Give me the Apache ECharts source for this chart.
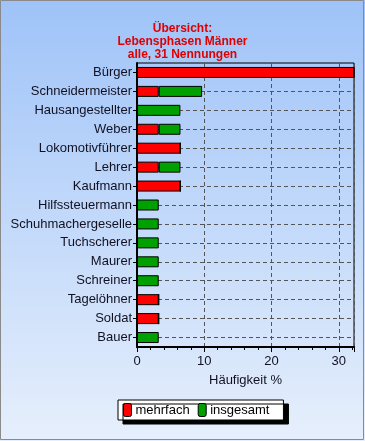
<!DOCTYPE html>
<html>
<head>
<meta charset="utf-8">
<script src="https://cdn.jsdelivr.net/npm/echarts@6/dist/echarts.min.js"></script>
<style>
html,body{margin:0;padding:0;}
#c{width:365px;height:441px;}
</style>
</head>
<body>
<div id="c"></div>
<script>
var categories = ["Bürger","Schneidermeister","Hausangestellter","Weber","Lokomotivführer","Lehrer","Kaufmann","Hilfssteuermann","Schuhmachergeselle","Tuchscherer","Maurer","Schreiner","Tagelöhner","Soldat","Bauer"];
var mehrfach  = [32.26, 3.23, 0, 3.23, 6.45, 3.23, 6.45, 0, 0, 0, 0, 0, 3.23, 3.23, 0];
var insgesamt = [0, 6.45, 6.45, 3.23, 0, 3.23, 0, 3.23, 3.23, 3.23, 3.23, 3.23, 0, 0, 3.23];
var xTicks = [0, 10, 20, 30];
var xMax = 32.26;
var titleText = "Übersicht:\nLebensphasen Männer\nalle, 31 Nennungen";
var seriesNames = ["mehrfach", "insgesamt"];

var chart = echarts.init(document.getElementById('c'), null, {renderer:'canvas'});
var font = "'Liberation Sans', Arial, sans-serif";
chart.setOption({
  animation:false,
  backgroundColor:{type:'linear',x:0,y:0,x2:0,y2:1,colorStops:[{offset:0,color:'#9fc3f8'},{offset:1,color:'#e6effc'}]},
  graphic:[{type:'rect',shape:{x:0.5,y:0.5,width:363,height:439},style:{fill:'none',stroke:'#8a8a8a',lineWidth:1},silent:true}],
  title:{text:titleText,left:'center',top:17,textStyle:{color:'#e00000',fontWeight:'bold',fontSize:12,lineHeight:13,fontFamily:font}},
  grid:{left:137,right:11,top:63,bottom:94,show:true,borderColor:'#000',borderWidth:1},
  legend:{data:seriesNames,left:118,top:400,padding:[3,14,3,5],itemGap:8,itemWidth:8,itemHeight:13,
    backgroundColor:'#fff',borderColor:'#000',borderWidth:1,shadowColor:'#000',shadowOffsetX:5,shadowOffsetY:4,shadowBlur:0,
    itemStyle:{borderColor:'#000',borderWidth:1},
    textStyle:{fontSize:13,fontFamily:font,color:'#000',padding:[0,0,0,-1]}},
  xAxis:{type:'value',min:0,max:xMax,interval:10,name:'Häufigkeit %',nameLocation:'middle',nameGap:27,
    nameTextStyle:{fontSize:13,fontFamily:font,color:'#112'},
    axisLine:{show:true,lineStyle:{color:'#000',width:2}},
    axisTick:{show:true,length:5,lineStyle:{color:'#000'}},
    minorTick:{show:true,splitNumber:5,length:3,lineStyle:{color:'#000'}},
    axisLabel:{fontSize:13,fontFamily:font,color:'#112',margin:8,showMaxLabel:false,
      formatter:function(v){return xTicks.indexOf(v)>=0?String(v):'';}},
    splitLine:{show:true,lineStyle:{color:'#555',type:[4,3],width:1}}},
  yAxis:{type:'category',data:categories,inverse:true,
    axisLine:{show:true,lineStyle:{color:'#000',width:2}},
    axisTick:{show:true,alignWithLabel:true,length:4,lineStyle:{color:'#000'}},
    axisLabel:{fontSize:13,fontFamily:font,color:'#112',margin:5},
    splitLine:{show:false}},
  series:[
    {name:'_grid',type:'line',data:[],z:1,silent:true,
     markLine:{silent:true,z:1,symbol:'none',label:{show:false},lineStyle:{color:'#555',type:[4,3],width:1},
       data:categories.map(function(c){return {yAxis:c};})}},
    {name:seriesNames[0],type:'bar',stack:'s',data:mehrfach,barWidth:11,z:3,
     itemStyle:{color:'#ff0000',borderColor:'#000',borderWidth:1}},
    {name:seriesNames[1],type:'bar',stack:'s',data:insgesamt,barWidth:11,z:3,
     itemStyle:{color:'#00a000',borderColor:'#000',borderWidth:1}}
  ]
});
</script>
</body>
</html>
